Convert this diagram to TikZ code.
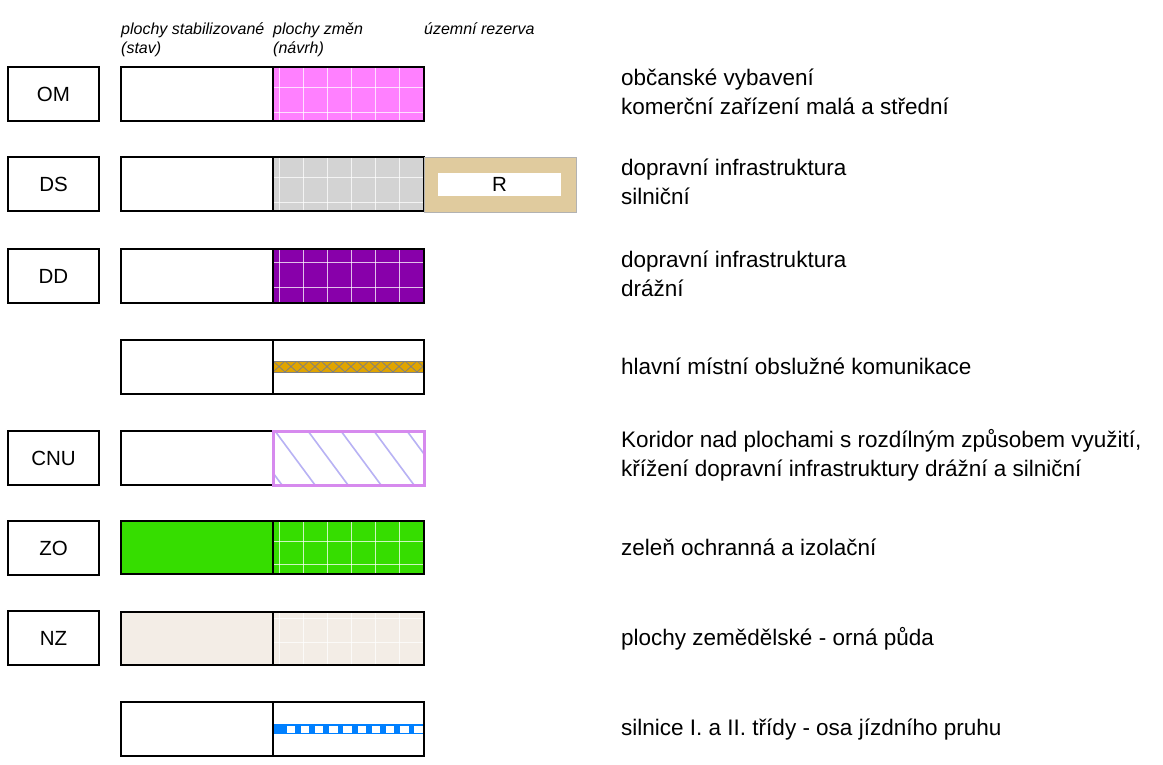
\documentclass[tikz,border=0pt]{standalone}
\usepackage{fontspec}
\setmainfont{Liberation Sans}
\definecolor{omPink}{RGB}{255,128,255}
\definecolor{dsGrey}{RGB}{211,211,211}
\definecolor{reserveTan}{RGB}{224,203,158}
\definecolor{ddPurple}{RGB}{136,0,170}
\definecolor{streetOrange}{RGB}{224,164,0}
\definecolor{hatchGrey}{RGB}{128,128,128}
\definecolor{cnuBorder}{RGB}{214,138,238}
\definecolor{cnuHatch}{RGB}{184,178,244}
\definecolor{zoGreen}{RGB}{54,221,0}
\definecolor{nzBeige}{RGB}{243,237,230}
\definecolor{roadBlue}{RGB}{0,128,255}

\tikzset{
  box/.style={draw=black, line width=1.5pt},
  code/.style={draw=black, line width=1.2pt, minimum width=91pt, minimum height=54pt,
    inner sep=0pt, font=\fontsize{20.5}{24}\selectfont},
  legend/.style={anchor=base west, align=left, inner sep=0pt, font=\fontsize{22.5}{28.5}\selectfont},
  head/.style={anchor=base west, align=left, inner sep=0pt, font=\itshape\fontsize{16}{19}\selectfont},
  gridline/.style={white, opacity=0.75, line width=1pt},
}

% grid of the change area: top y, first and second horizontal offset
\newcommand{\changegrid}[3]{%
  \foreach \gx in {279,303,...,423}
    \draw[gridline] (\gx,#1) -- (\gx,#1+54);
  \draw[gridline] (273,#1+#2) -- (424,#1+#2);
  \draw[gridline] (273,#1+#3) -- (424,#1+#3);
}

\begin{document}
\begin{tikzpicture}[x=1pt, y=-1pt]
  \useasboundingbox (0,0) rectangle (1163,764);

  % column heads
  \node[head] (headStav) at (121,53) {plochy stabilizované\\(stav)};
  \node[head] (headZmen) at (273,53) {plochy změn\\(návrh)};
  \node[head] (headRez) at (424,34) {územní rezerva};

  % OM
  \node[code] (om) at (53.5,94) {OM};
  \fill[omPink] (273,67) rectangle (424,121);
  \changegrid{67}{20}{45}
  \draw[box] (121,67) rectangle (273,121);
  \draw[box] (273,67) rectangle (424,121);
  \node[legend] (omText) at (621,114) {občanské vybavení\\komerční zařízení malá a střední};

  % DS
  \node[code] (ds) at (53.5,184) {DS};
  \fill[dsGrey] (273,157) rectangle (424,211);
  \changegrid{157}{20}{45}
  \draw[box] (121,157) rectangle (273,211);
  \draw[box] (273,157) rectangle (424,211);
  \fill[reserveTan] (424,157) rectangle (576,212);
  \draw[black!30, line width=0.6pt] (424,157) rectangle (576,212);
  \node[fill=white, minimum width=123pt, minimum height=23pt, inner sep=0pt,
    font=\fontsize{20.5}{24}\selectfont] (dsRez) at (499.5,184.5) {R};
  \node[legend] (dsText) at (621,204) {dopravní infrastruktura\\silniční};

  % DD
  \node[code] (dd) at (53.5,276) {DD};
  \fill[ddPurple] (273,249) rectangle (424,303);
  \changegrid{249}{13}{38}
  \draw[box] (121,249) rectangle (273,303);
  \draw[box] (273,249) rectangle (424,303);
  \node[legend] (ddText) at (621,296) {dopravní infrastruktura\\drážní};

  % main local streets
  \fill[streetOrange] (273,361) rectangle (424,372);
  \begin{scope}
    \clip (273,361) rectangle (424,372);
    \foreach \hx in {273,285,...,425} {
      \draw[hatchGrey, line width=0.8pt] (\hx,361) -- (\hx+12,372);
      \draw[hatchGrey, line width=0.8pt] (\hx,372) -- (\hx+12,361);
    }
  \end{scope}
  \draw[hatchGrey, line width=0.8pt] (273,361) rectangle (424,372);
  \draw[box] (121,340) rectangle (273,394);
  \draw[box] (273,340) rectangle (424,394);
  \node[legend] (mkText) at (621,374) {hlavní místní obslužné komunikace};

  % CNU
  \node[code] (cnu) at (53.5,458) {CNU};
  \draw[box] (121,431) rectangle (273,485);
  \fill[white] (273,431) rectangle (424,485);
  \begin{scope}
    \clip (273,431) rectangle (424,485);
    \foreach \cx in {209,242,...,440}
      \draw[cnuHatch, line width=1.6pt] (\cx,431) -- (\cx+40,485);
  \end{scope}
  \draw[cnuBorder, line width=3pt] (273,431) rectangle (424,485);
  \node[legend] (cnuText) at (621,476) {Koridor nad plochami s rozdílným způsobem využití,\\křížení dopravní infrastruktury drážní a silniční};

  % ZO
  \node[code] (zo) at (53.5,548) {ZO};
  \fill[zoGreen] (121,521) rectangle (424,574);
  \changegrid{521}{20}{43}
  \draw[box] (121,521) rectangle (273,574);
  \draw[box] (273,521) rectangle (424,574);
  \node[legend] (zoText) at (621,555) {zeleň ochranná a izolační};

  % NZ
  \node[code] (nz) at (53.5,638) {NZ};
  \fill[nzBeige] (121,612) rectangle (424,665);
  \changegrid{612}{6}{30}
  \draw[box] (121,612) rectangle (273,665);
  \draw[box] (273,612) rectangle (424,665);
  \node[legend] (nzText) at (621,645) {plochy zemědělské - orná půda};

  % roads I. and II. class
  \fill[roadBlue] (273,724) rectangle (424,734);
  \foreach \i in {0,...,9}
    \fill[white] (286.5+14.2*\i,726) rectangle (295+14.2*\i,732.5);
  \fill[white, opacity=0.6] (420,726) rectangle (424,732.5);
  \draw[box] (121,702) rectangle (273,756);
  \draw[box] (273,702) rectangle (424,756);
  \node[legend] (roadText) at (621,735) {silnice I. a II. třídy - osa jízdního pruhu};
\end{tikzpicture}
\end{document}
